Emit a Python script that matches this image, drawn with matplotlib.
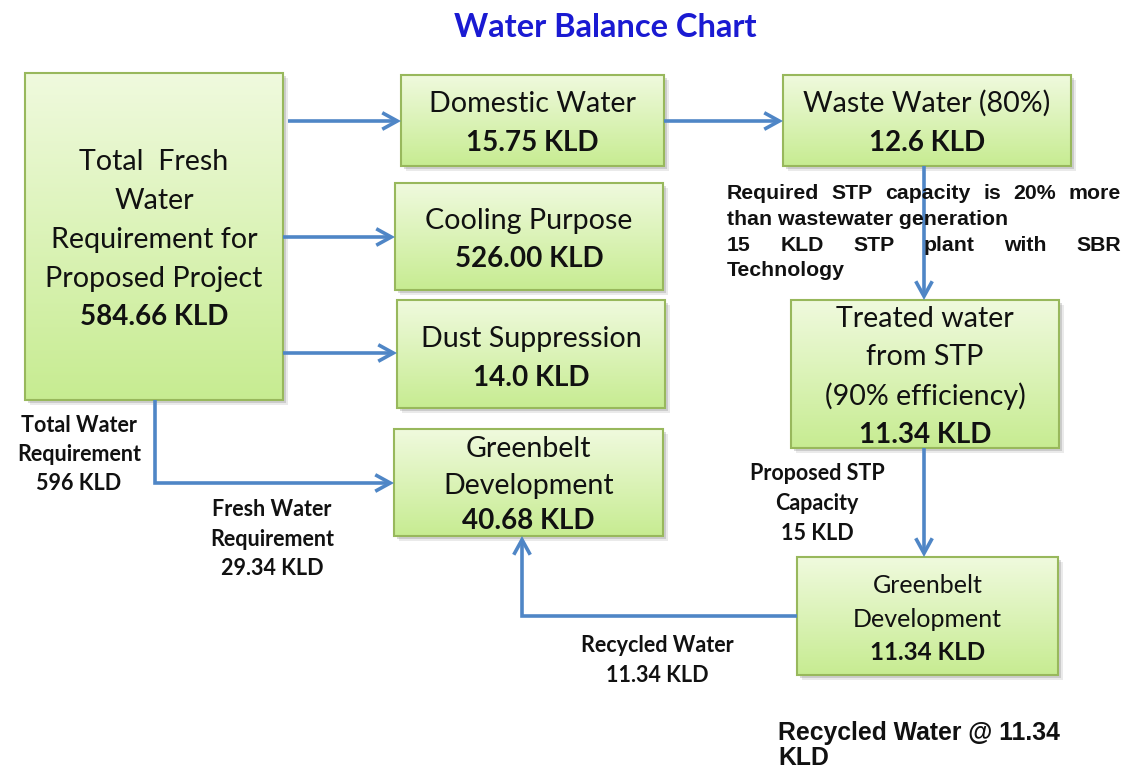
import matplotlib
matplotlib.use("Agg")
import matplotlib.pyplot as plt
import numpy as np
from matplotlib.patches import Rectangle, FancyArrowPatch
from matplotlib.path import Path
from matplotlib import font_manager

# ---------------- data ----------------
title = "Water Balance Chart"
box_titles = [
    "Total  Fresh\nWater\nRequirement for\nProposed Project",
    "Domestic Water",
    "Cooling Purpose",
    "Dust Suppression",
    "Greenbelt\nDevelopment",
    "Waste Water (80%)",
    "Treated water\nfrom STP\n(90% efficiency)",
    "Greenbelt\nDevelopment",
]
box_values = ["584.66", "15.75", "526.00", "14.0", "40.68", "12.6", "11.34", "11.34"]
unit = "KLD"

total_label = ["Total Water", "Requirement", "596 KLD"]
fresh_label = ["Fresh Water", "Requirement", "29.34 KLD"]
proposed_label = ["Proposed STP", "Capacity", "15 KLD"]
recycled_label = ["Recycled Water", "11.34 KLD"]
stp_note = ["Required STP capacity is 20% more",
            "than wastewater generation",
            "15 KLD STP plant with SBR",
            "Technology"]
stp_justify = [True, False, True, False]
footer = ["Recycled Water @ 11.34", "KLD"]

# ---------------- layout ----------------
W, H = 1128, 771
fig = plt.figure(figsize=(W / 100, H / 100), dpi=100)
ax = fig.add_axes([0, 0, 1, 1])
ax.set_xlim(0, W)
ax.set_ylim(H, 0)
ax.axis("off")

CAL = "Lato"
ARIAL = "Liberation Sans"

# box rectangles: x0, y0, x1, y1 (pixels) ; baselines of lines ; font size
box_rects = [
    (25, 73, 283, 400),
    (401, 75, 664, 166),
    (395, 183, 663, 290),
    (397, 300, 665, 408),
    (394, 429, 663, 536),
    (783, 75, 1071, 166),
    (791, 300, 1059, 448),
    (797, 557, 1058, 675),
]
box_baselines = [
    [170, 209, 248, 287, 325],
    [112, 151],
    [229, 267],
    [347, 386],
    [457, 494, 529],
    [112, 151],
    [327, 365, 405, 443],
    [593, 627, 660],
]
box_fs = [20.6, 20.6, 20.6, 20.6, 20.6, 20.6, 20.6, 18.0]

top_col = np.array([0.94, 0.98, 0.87])
bot_col = np.array([0.78, 0.925, 0.57])
edge_col = "#98b85c"
arrow_col = "#4f86c6"

grad = np.linspace(0, 1, 256)[:, None, None]
grad_img = top_col[None, None, :] * (1 - grad) + bot_col[None, None, :] * grad

for (x0, y0, x1, y1), lines_txt, val, bls, fs in zip(box_rects, box_titles, box_values,
                                                     box_baselines, box_fs):
    # shadow
    for off, a in [(5, 0.16), (3, 0.28)]:
        ax.add_patch(Rectangle((x0 + off, y0 + off), x1 - x0, y1 - y0,
                               facecolor="#808080", edgecolor="none", alpha=a, zorder=1))
    ax.imshow(grad_img, extent=(x0, x1, y1, y0), aspect="auto", zorder=2,
              interpolation="bilinear")
    ax.add_patch(Rectangle((x0, y0), x1 - x0, y1 - y0, facecolor="none",
                           edgecolor=edge_col, lw=1.5, zorder=3))
    cx = (x0 + x1) / 2
    lines = lines_txt.split("\n") + [f"{val} {unit}"]
    for i, (ln, bl) in enumerate(zip(lines, bls)):
        bold = i == len(lines) - 1
        ax.text(cx, bl, ln, ha="center", va="baseline", family=CAL,
                fontsize=fs - (0.6 if bold else 0), weight="bold" if bold else "normal",
                color="#111111", zorder=4)

ax.set_xlim(0, W)
ax.set_ylim(H, 0)


def arrow(points):
    p = FancyArrowPatch(path=Path(points), arrowstyle="->,head_length=0.4,head_width=0.22",
                        mutation_scale=27, color=arrow_col, lw=2.6, zorder=5,
                        joinstyle="miter", capstyle="butt")
    ax.add_patch(p)


arrow([(288, 121), (401, 121)])
arrow([(283, 237), (395, 237)])
arrow([(283, 353), (397, 353)])
arrow([(664, 121), (783, 121)])
arrow([(924, 166), (924, 300)])
arrow([(924, 448), (924, 557)])
arrow([(155, 400), (155, 483), (394, 483)])
arrow([(797, 616), (522, 616), (522, 536)])

# title
ax.text(605, 37, title, ha="center", va="baseline", family=CAL, weight="bold",
        fontsize=23.5, color="#1a1ad2", zorder=6)


def label(lines, cx, bls, fs=15.5):
    for ln, bl in zip(lines, bls):
        ax.text(cx, bl, ln, ha="center", va="baseline", family=CAL, weight="bold",
                fontsize=fs, color="#111111", zorder=6)


label(total_label, 79, [432, 461, 490])
label(fresh_label, 272, [516, 546, 575])
label(proposed_label, 817, [480, 510, 540])
label(recycled_label, 657, [652, 682])

# justified STP note
renderer = fig.canvas.get_renderer()
note_x0, note_x1 = 727, 1121
note_bl = [199, 225, 251, 276]
for ln, just, bl in zip(stp_note, stp_justify, note_bl):
    if not just:
        ax.text(note_x0, bl, ln, ha="left", va="baseline", family=ARIAL, weight="bold",
                fontsize=15.3, color="#111111", zorder=6)
        continue
    words = ln.split()
    ts = [ax.text(0, bl, w, ha="left", va="baseline", family=ARIAL, weight="bold",
                  fontsize=15.3, color="#111111", zorder=6) for w in words]
    widths = [t.get_window_extent(renderer=renderer).width for t in ts]
    gap = (note_x1 - note_x0 - sum(widths)) / (len(words) - 1)
    x = note_x0
    for t, w in zip(ts, widths):
        t.set_x(x)
        x += w + gap

# footer
names = {f.name for f in font_manager.fontManager.ttflist}
if "Liberation Sans Narrow" in names:
    ffam, ffs = "Liberation Sans Narrow", 22
else:
    ffam, ffs = ARIAL, 17.8
for ln, bl in zip(footer, [740, 765]):
    ax.text(778, bl, ln, ha="left", va="baseline", family=ffam, weight="bold",
            fontsize=ffs, color="#111111", zorder=6)

fig.savefig("out.png", dpi=100, facecolor="white")
